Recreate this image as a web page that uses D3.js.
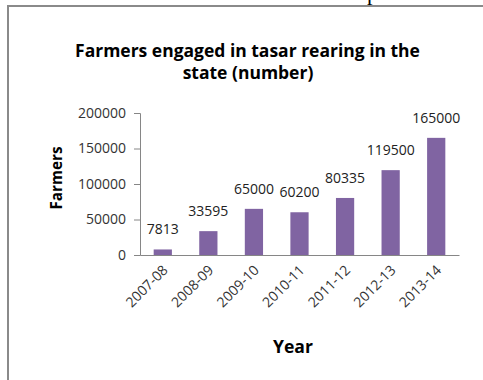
<!DOCTYPE html>
<html>
<head>
<meta charset="utf-8">
<script src="https://cdn.jsdelivr.net/npm/d3@7"></script>
<style>
  html, body { margin: 0; padding: 0; background: #fff; }
  svg { display: block; }
  text { font-family: "Open Sans", Lato, sans-serif; }
</style>
</head>
<body>
<svg id="chart" width="483" height="380"></svg>
<script>
const years = ["2007-08", "2008-09", "2009-10", "2010-11", "2011-12", "2012-13", "2013-14"];
const farmers = [7813, 33595, 65000, 60200, 80335, 119500, 165000];
const yTicks = [0, 50000, 100000, 150000, 200000];
const titleLines = ["Farmers engaged in tasar rearing in the", "state (number)"];
const yTitle = "Farmers";
const xTitle = "Year";

const svg = d3.select("#chart");
const FONT = "'Open Sans', Lato, sans-serif";

function fit(sel, w) {
  const n = sel.node();
  const fs = parseFloat(sel.attr("font-size"));
  const cur = n.getComputedTextLength();
  sel.attr("font-size", (fs * w / cur).toFixed(2));
}

// fragment of surrounding document text and frame
svg.append("text").attr("x", 367).attr("y", 0)
  .attr("font-size", 22).attr("fill", "#000")
  .style("font-family", "'Liberation Serif', serif").text("p");
svg.append("line").attr("x1", 7).attr("x2", 483).attr("y1", 6).attr("y2", 6)
  .attr("stroke", "#8a8a8a").attr("stroke-width", 2);
svg.append("line").attr("x1", 8).attr("x2", 8).attr("y1", 5).attr("y2", 380)
  .attr("stroke", "#8a8a8a").attr("stroke-width", 2);

const x = d3.scaleBand().domain(years).range([140, 459]).paddingInner(0.6).paddingOuter(0.3);
const y = d3.scaleLinear().domain([0, 200000]).range([255, 113]);

// title
const t1 = svg.append("text").attr("x", 247.5).attr("y", 57).attr("text-anchor", "middle")
  .attr("font-weight", "bold").attr("font-size", 15).attr("fill", "#000").text(titleLines[0]);
fit(t1, 345);
svg.append("text").attr("x", 248).attr("y", 79).attr("text-anchor", "middle")
  .attr("font-weight", "bold").attr("font-size", t1.attr("font-size")).attr("fill", "#000").text(titleLines[1]);

// y axis
const yAxis = svg.append("g").attr("transform", "translate(140,0)")
  .call(d3.axisLeft(y).tickValues(yTicks).tickSize(6).tickPadding(8).tickFormat(d3.format("d")));
yAxis.select(".domain").attr("stroke", "#868686");
yAxis.selectAll(".tick line").attr("stroke", "#868686");
yAxis.selectAll(".tick text").attr("font-size", 14).attr("fill", "#333")
  .style("font-family", FONT);

// bars
svg.append("g").selectAll("rect").data(farmers).join("rect")
  .attr("x", (d, i) => x(years[i]))
  .attr("y", d => y(d))
  .attr("width", x.bandwidth())
  .attr("height", d => y(0) - y(d))
  .attr("fill", "#8064A2");

// x axis
const xAxis = svg.append("g").attr("transform", "translate(0,255)")
  .call(d3.axisBottom(x).tickSize(0).tickSizeOuter(0).tickPadding(0));
xAxis.select(".domain").attr("stroke", "#868686");
xAxis.selectAll(".tick text")
  .attr("font-size", 14).attr("fill", "#333")
  .style("font-family", FONT)
  .attr("text-anchor", "end")
  .attr("dy", 0).attr("y", 0)
  .attr("transform", "translate(6,16) rotate(-45)");

// data labels
svg.append("g").selectAll("text").data(farmers).join("text")
  .attr("x", (d, i) => x(years[i]) + x.bandwidth() / 2)
  .attr("y", d => y(d) - 15)
  .attr("text-anchor", "middle")
  .attr("font-size", 14).attr("fill", "#222")
  .text(d => d);

// axis titles
const yt = svg.append("text").attr("transform", "translate(62,178) rotate(-90)")
  .attr("text-anchor", "middle").attr("font-weight", "bold").attr("font-size", 16)
  .attr("fill", "#000").text(yTitle);
fit(yt, 63);
const xt = svg.append("text").attr("x", 293).attr("y", 353).attr("text-anchor", "middle")
  .attr("font-weight", "bold").attr("font-size", 16).attr("fill", "#000").text(xTitle);
fit(xt, 40);
</script>
</body>
</html>
